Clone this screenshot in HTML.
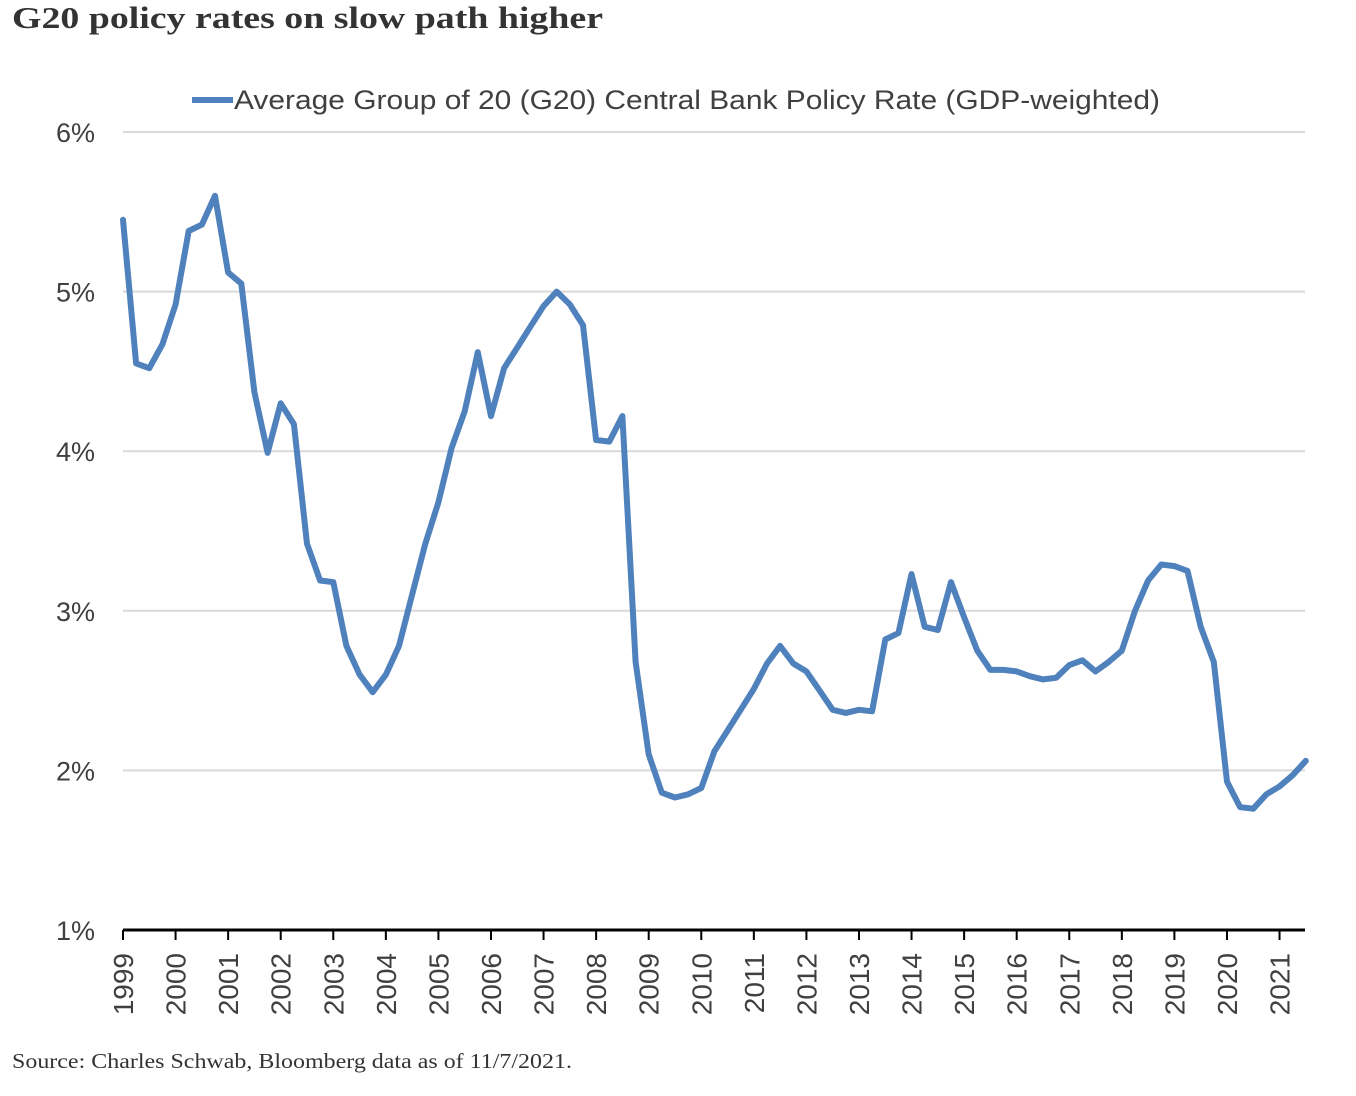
<!DOCTYPE html>
<html><head><meta charset="utf-8"><style>
body{margin:0;background:#fff;width:1356px;height:1096px;overflow:hidden}
svg{display:block}
</style></head><body>
<svg id="chart" width="1356" height="1096">
<text x="12" y="28" font-family="Liberation Serif, serif" font-weight="bold" font-size="31" fill="#333" textLength="591" lengthAdjust="spacingAndGlyphs">G20 policy rates on slow path higher</text>
<g>
<line x1="192" y1="100" x2="233" y2="100" stroke="#4f81bd" stroke-width="6"/>
<text x="234" y="109" font-family="Liberation Sans, sans-serif" font-size="27" fill="#404040" textLength="926" lengthAdjust="spacingAndGlyphs">Average Group of 20 (G20) Central Bank Policy Rate (GDP-weighted)</text>
</g>
<g id="grid"></g><g id="yticks"></g><g id="xaxis"></g><g id="series"></g>
<text x="12" y="1068" font-family="Liberation Serif, serif" font-size="21" fill="#333" textLength="560" lengthAdjust="spacingAndGlyphs">Source: Charles Schwab, Bloomberg data as of 11/7/2021.</text>
</svg>
<script>
const yTicks=[1,2,3,4,5,6];
const years=[1999,2000,2001,2002,2003,2004,2005,2006,2007,2008,2009,2010,2011,2012,2013,2014,2015,2016,2017,2018,2019,2020,2021];
const startYear=1999;
const rates=[5.45,4.55,4.52,4.67,4.92,5.38,5.42,5.6,5.12,5.05,4.37,3.99,4.3,4.17,3.42,3.19,3.18,2.78,2.6,2.49,2.6,2.78,3.1,3.42,3.68,4.02,4.25,4.62,4.22,4.52,4.65,4.78,4.91,5.0,4.92,4.79,4.07,4.06,4.22,2.68,2.1,1.86,1.83,1.85,1.89,2.12,2.25,2.38,2.51,2.67,2.78,2.67,2.62,2.5,2.38,2.36,2.38,2.37,2.82,2.86,3.23,2.9,2.88,3.18,2.96,2.75,2.63,2.63,2.62,2.59,2.57,2.58,2.66,2.69,2.62,2.68,2.75,3.0,3.19,3.29,3.28,3.25,2.9,2.68,1.93,1.77,1.76,1.85,1.9,1.97,2.06];
const NS="http://www.w3.org/2000/svg";
const X0=123,X1=1305,yearW=52.57;
const xs=t=>X0+(t-1999)*yearW;
const ys=v=>930-(v-1)*159.6;
function mk(tag,attrs,parent){const e=document.createElementNS(NS,tag);for(const k in attrs)e.setAttribute(k,attrs[k]);parent.appendChild(e);return e;}
const grid=document.getElementById('grid'),yt=document.getElementById('yticks'),xa=document.getElementById('xaxis'),se=document.getElementById('series');
yTicks.forEach(v=>{
  if(v>1){const l=mk('line',{x1:X0,x2:X1,y1:ys(v),y2:ys(v),stroke:'#d9d9d9','stroke-width':2},grid);
  
  }
  const t=mk('text',{x:95,y:ys(v)+10,'text-anchor':'end','font-family':'Liberation Sans, sans-serif','font-size':27,fill:'#404040'},yt);
  t.textContent=v+'%';
  
  
});
const ax=mk('line',{x1:X0,x2:X1,y1:930,y2:930,stroke:'#000','stroke-width':3},xa);


years.forEach(yr=>{
  const x=xs(yr);
  const tk=mk('line',{x1:x,x2:x,y1:930,y2:940,stroke:'#000','stroke-width':2},xa);
  
  
  const t=mk('text',{x:0,y:0,transform:`translate(${x+10},953) rotate(-90)`,'text-anchor':'end','font-family':'Liberation Sans, sans-serif','font-size':28,fill:'#404040'},xa);
  t.textContent=yr;
  
  
});
const pts=rates.map((v,i)=>xs(startYear+i*0.25).toFixed(1)+','+ys(v).toFixed(1)).join(' ');
const pl=mk('polyline',{points:pts,fill:'none',stroke:'#4f81bd','stroke-width':6,'stroke-linejoin':'round','stroke-linecap':'round'},se);


</script>
</body></html>
